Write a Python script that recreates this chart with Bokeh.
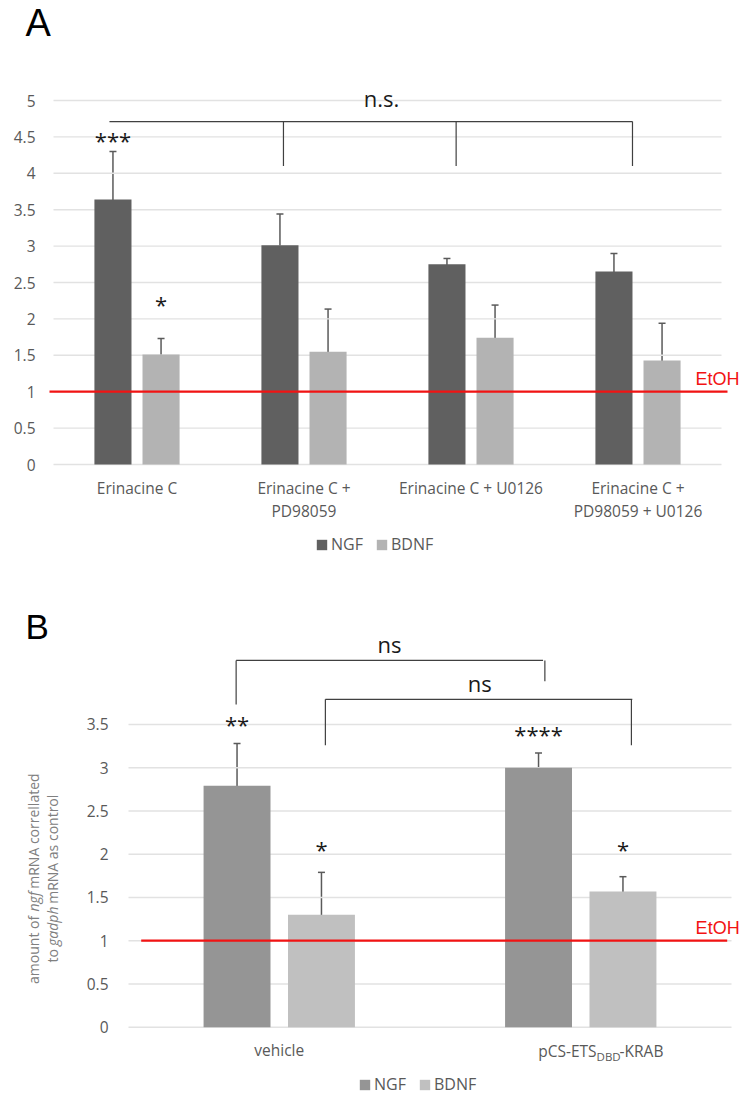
from bokeh.plotting import figure
from bokeh.models import (ColumnDataSource, Whisker, TeeHead, Legend, LegendItem,
                          FixedTicker, Range1d, CustomJSTickFormatter)
from bokeh.layouts import column
from bokeh.core.properties import value
from bokeh.embed import file_html
from bokeh.resources import INLINE
import math

FONT = "Open Sans"
AXIS_GREY = "#595959"
RED = "#f21313"

# ---------------- Panel A data ----------------
cats_a = ["Erinacine C", "Erinacine C +\nPD98059", "Erinacine C + U0126",
          "Erinacine C +\nPD98059 + U0126"]
ngf_a = [3.64, 3.01, 2.75, 2.65]
ngf_a_err = [0.66, 0.43, 0.08, 0.25]
bdnf_a = [1.51, 1.55, 1.74, 1.43]
bdnf_a_err = [0.22, 0.585, 0.45, 0.51]
yticks_a = [0, 0.5, 1, 1.5, 2, 2.5, 3, 3.5, 4, 4.5, 5]

# significance marks A
stars_a_cat = [0, 0]
stars_a_ser = ["NGF", "BDNF"]
stars_a_txt = ["***", "*"]
stars_a_y = [4.50, 2.25]
bracket_a_y = 4.71
bracket_a_x0, bracket_a_x1 = -0.165, 2.967
bracket_a_drops_x = [0.877, 1.911, 2.967]
bracket_a_drop_y = 4.10
ns_a_txt, ns_a_x, ns_a_y = "n.s.", 1.464, 5.03

# ---------------- Panel B data ----------------
cats_b = ["vehicle", "pCS-ETS|DBD|-KRAB"]
ngf_b = [2.79, 3.00]
ngf_b_err = [0.49, 0.17]
bdnf_b = [1.30, 1.57]
bdnf_b_err = [0.49, 0.17]
yticks_b = [0, 0.5, 1, 1.5, 2, 2.5, 3, 3.5]

stars_b_cat = [0, 0, 1, 1]
stars_b_ser = ["NGF", "BDNF", "NGF", "BDNF"]
stars_b_txt = ["**", "*", "****", "*"]
stars_b_y = [3.54, 2.09, 3.42, 2.09]
brackets_b_y = [4.24, 3.79]
brackets_b_x0 = [-0.143, 0.153]
brackets_b_x1 = [0.875, 1.171]
brackets_b_rx = [0.881, 1.168]
brackets_b_ly = [3.73, 3.26]
brackets_b_ry = [4.00, 3.26]
ns_b_x = [0.366, 0.665]
ns_b_y = [4.435, 3.975]
ylabel_b = [("amount of ", "normal", 0), ("ngf", "italic", 0), (" mRNA correllated", "normal", 0),
            ("to ", "normal", 1), ("gadph", "italic", 1), (" mRNA as control", "normal", 1)]

ETOH = 1.0


def style_common(p, yticks, xlabels, y_standoff):
    p.xgrid.visible = False
    p.ygrid.visible = False
    p.outline_line_color = None
    p.yaxis.fixed_location = -0.5
    p.yaxis.ticker = FixedTicker(ticks=yticks)
    p.yaxis.formatter = CustomJSTickFormatter(code="return String(tick)")
    p.yaxis.axis_line_color = None
    p.yaxis.major_tick_line_color = None
    p.yaxis.minor_tick_line_color = None
    p.yaxis.major_tick_out = 0
    p.yaxis.major_tick_in = 0
    p.yaxis.minor_tick_out = 0
    p.yaxis.major_label_standoff = y_standoff
    p.yaxis.major_label_text_font = FONT
    p.yaxis.major_label_text_font_size = "15.5px"
    p.yaxis.major_label_text_color = AXIS_GREY
    p.xaxis.fixed_location = 0
    p.xaxis.ticker = FixedTicker(ticks=list(range(len(xlabels))))
    p.xaxis.formatter = CustomJSTickFormatter(args=dict(labels=xlabels),
                                              code="return labels[Math.round(tick)]")
    p.xaxis.axis_line_color = None
    p.xaxis.major_tick_line_color = None
    p.xaxis.minor_tick_line_color = None
    p.xaxis.major_label_standoff = 6
    p.xaxis.major_label_text_font = FONT
    p.xaxis.major_label_text_font_size = "15.5px"
    p.xaxis.major_label_text_line_height = 1.05
    p.xaxis.major_label_text_color = AXIS_GREY
    n = len(xlabels)
    p.segment(x0=[-0.5] * len(yticks), x1=[n - 0.5] * len(yticks), y0=yticks, y1=yticks,
              line_color="#e2e2e2", line_width=1.4)


def bars(p, cats, ngf, ngf_err, bdnf, bdnf_err, off, width, c_ngf, c_bdnf):
    xs = list(range(len(cats)))
    s_n = ColumnDataSource(dict(x=[x - off for x in xs], top=ngf,
                                up=[v + e for v, e in zip(ngf, ngf_err)],
                                lo=[v - e for v, e in zip(ngf, ngf_err)]))
    s_b = ColumnDataSource(dict(x=[x + off for x in xs], top=bdnf,
                                up=[v + e for v, e in zip(bdnf, bdnf_err)],
                                lo=[v - e for v, e in zip(bdnf, bdnf_err)]))
    r_n = p.vbar(x="x", top="top", bottom=0, width=width, source=s_n,
                 fill_color=c_ngf, line_color=None)
    r_b = p.vbar(x="x", top="top", bottom=0, width=width, source=s_b,
                 fill_color=c_bdnf, line_color=None)
    return r_n, r_b, s_n, s_b


def whiskers(p, src):
    w = Whisker(source=src, base="x", upper="up", lower="lo",
                line_color="#5a5a5a", line_width=1.5,
                upper_head=TeeHead(size=7, line_color="#5a5a5a", line_width=1.5),
                lower_head=TeeHead(size=7, line_color="#5a5a5a", line_width=1.5))
    p.add_layout(w)


def legend(p, r_n, r_b, loc):
    lg = Legend(items=[LegendItem(label="NGF", renderers=[r_n]),
                       LegendItem(label="BDNF", renderers=[r_b])],
                orientation="horizontal", location=loc,
                padding=0, margin=0, spacing=12, label_standoff=3,
                glyph_width=13, glyph_height=13, label_height=16,
                label_text_font=FONT, label_text_font_size="16px",
                label_text_color=AXIS_GREY,
                background_fill_alpha=0, border_line_alpha=0)
    p.add_layout(lg)


def stars(p, cats, sers, txt, ys, off):
    sx = [c - off if s == "NGF" else c + off for c, s in zip(cats, sers)]
    p.text(x=sx, y=ys, text=txt, text_font=value(FONT), text_font_size="22px",
           text_align="center", text_baseline="middle", y_offset=3, text_color="#1a1a1a")


# ======================= Figure A =======================
PXA = 167.0
PYA = 72.8
pa = figure(width=747, height=593, output_backend="svg", toolbar_location=None,
            x_range=Range1d(-0.5 - 53 / PXA, 3.5 + 26 / PXA),
            y_range=Range1d(-129 / PYA, 464 / PYA), min_border=0)
style_common(pa, yticks_a, cats_a, 18)
OFF_A, W_A = 0.144, 0.222
rn, rb, sn, sb = bars(pa, cats_a, ngf_a, ngf_a_err, bdnf_a, bdnf_a_err, OFF_A, W_A,
                      "#606060", "#b3b3b3")
pa.segment(x0=[-0.5 - 4 / PXA], x1=[3.5 + 6 / PXA], y0=[ETOH], y1=[ETOH],
           line_color=RED, line_width=2.2)
whiskers(pa, sn)
whiskers(pa, sb)
pa.text(x=[3.344], y=[ETOH + 0.168], text=["EtOH"], text_font=value("Liberation Sans"),
        text_font_size="18px", text_color=RED, text_baseline="middle")
stars(pa, stars_a_cat, stars_a_ser, stars_a_txt, stars_a_y, OFF_A)
pa.segment(x0=[bracket_a_x0], x1=[bracket_a_x1], y0=[bracket_a_y], y1=[bracket_a_y],
           line_color="#404040", line_width=1.2)
pa.segment(x0=bracket_a_drops_x, x1=bracket_a_drops_x, y0=[bracket_a_y] * 3,
           y1=[bracket_a_drop_y] * 3, line_color="#404040", line_width=1.2)
pa.text(x=[ns_a_x], y=[ns_a_y], text=[ns_a_txt], text_font=value(FONT),
        text_font_size="22px", text_align="center", text_baseline="middle",
        text_color="#1a1a1a")
legend(pa, rn, rb, (315, 38))
pa.text(x=[-0.5 - 28 / PXA], y=[6.071], text=["A"], text_font=value("Liberation Sans"),
        text_font_size="38px", text_baseline="middle", text_align="left", text_color="#000000")

# ======================= Figure B =======================
PXB = 301.5
PYB = 86.5
xl_b = [cats_b[0], ""]
pb = figure(width=747, height=505, output_backend="svg", toolbar_location=None,
            x_range=Range1d(-0.5 - 128 / PXB, 1.5 + 16 / PXB),
            y_range=Range1d(-71.3 / PYB, 433.7 / PYB), min_border=0)
style_common(pb, yticks_b, xl_b, 20)
OFF_B, W_B = 0.14, 0.222
rn2, rb2, sn2, sb2 = bars(pb, cats_b, ngf_b, ngf_b_err, bdnf_b, bdnf_b_err, OFF_B, W_B,
                          "#959595", "#c0c0c0")
pb.segment(x0=[-0.5 + 12.7 / PXB], x1=[1.5 - 4.3 / PXB], y0=[ETOH], y1=[ETOH],
           line_color=RED, line_width=2.2)
whiskers(pb, sn2)
whiskers(pb, sb2)
pb.text(x=[1.381], y=[ETOH + 0.145], text=["EtOH"], text_font=value("Liberation Sans"),
        text_font_size="18px", text_color=RED, text_baseline="middle")
stars(pb, stars_b_cat, stars_b_ser, stars_b_txt, stars_b_y, OFF_B)
for i in range(2):
    pb.segment(x0=[brackets_b_x0[i]], x1=[brackets_b_x1[i]], y0=[brackets_b_y[i]],
               y1=[brackets_b_y[i]], line_color="#404040", line_width=1.2)
    pb.segment(x0=[brackets_b_x0[i], brackets_b_rx[i]], x1=[brackets_b_x0[i], brackets_b_rx[i]],
               y0=[brackets_b_y[i]] * 2, y1=[brackets_b_ly[i], brackets_b_ry[i]],
               line_color="#404040", line_width=1.2)
pb.text(x=ns_b_x, y=ns_b_y, text=["ns", "ns"], text_font=value(FONT), text_font_size="22px",
        text_align="center", text_baseline="middle", text_color="#1a1a1a")
# subscripted category label
main, sub, tail = cats_b[1].split("|")
pb.text(x=[1], y=[0], text=[main], x_offset=15.8, y_offset=24, text_align="right",
        text_baseline="middle", text_font=value(FONT), text_font_size="15.5px",
        text_color=AXIS_GREY)
pb.text(x=[1], y=[0], text=[sub], x_offset=15.8, y_offset=29, text_align="left",
        text_baseline="middle", text_font=value(FONT), text_font_size="11.5px",
        text_color=AXIS_GREY)
pb.text(x=[1], y=[0], text=[tail], x_offset=38.8, y_offset=24, text_align="left",
        text_baseline="middle", text_font=value(FONT), text_font_size="15.5px",
        text_color=AXIS_GREY)
legend(pb, rn2, rb2, (358, 3))
pb.text(x=[-0.5 - 103 / PXB], y=[4.638], text=["B"], text_font=value("Liberation Sans"),
        text_font_size="35px", text_baseline="middle", text_align="left", text_color="#000000")
# rotated y-axis title (two lines, gene names in italics)
yl_x = [-0.5 - 95 / PXB, -0.5 - 76 / PXB]
yl_y0 = [0.50, 0.748]
yl_off = [0, -72.5, -95.2, 0, -16.6, -58.7]
for (t, style, line), off in zip(ylabel_b, yl_off):
    pb.text(x=[yl_x[line]], y=[yl_y0[line]], text=[t.strip()], angle=math.pi / 2, y_offset=off,
            text_align="left", text_baseline="middle", text_font=value(FONT),
            text_font_size="14px", text_font_style=style, text_color="#808080")

layout = column(pa, pb, spacing=0)
open("out.html", "w").write(file_html(layout, INLINE))
